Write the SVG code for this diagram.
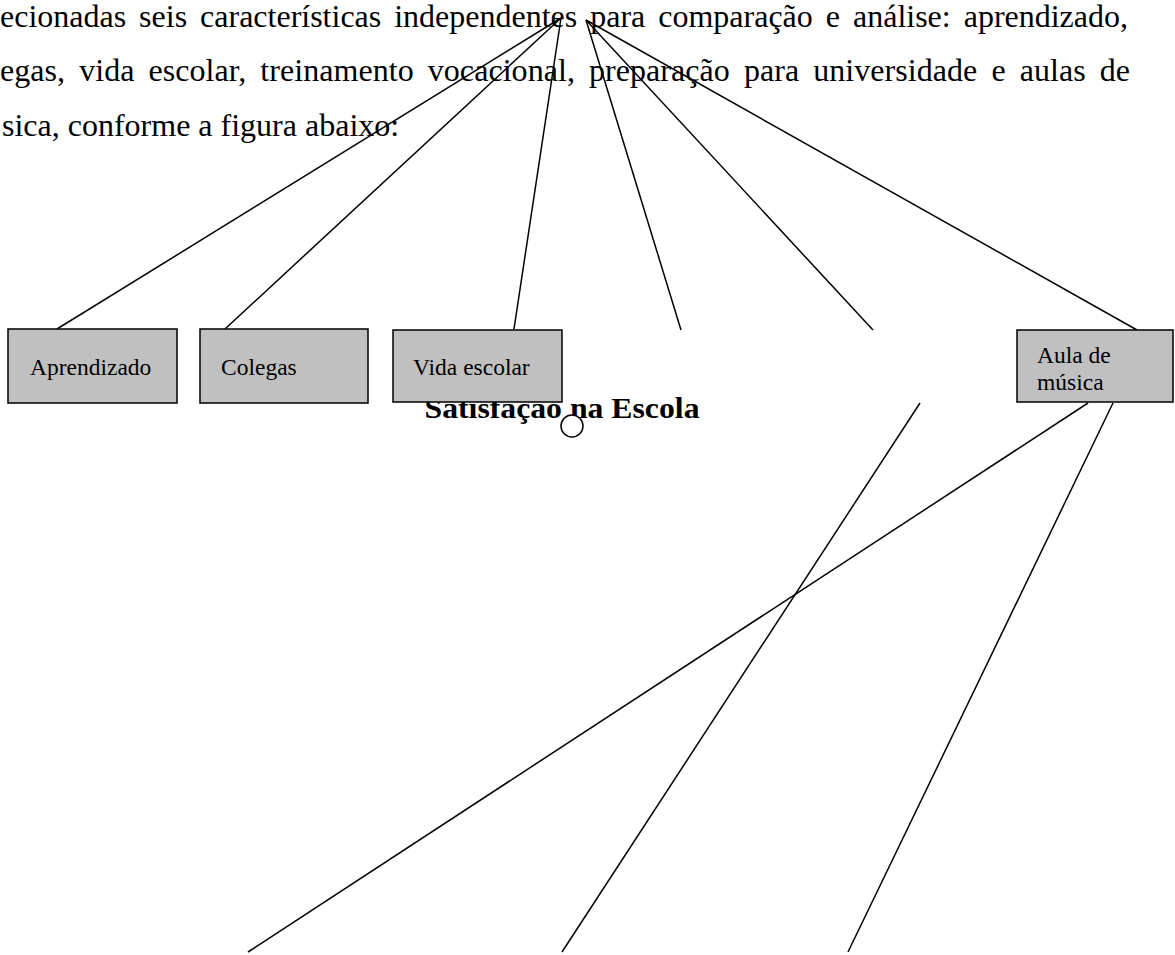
<svg xmlns="http://www.w3.org/2000/svg" width="1175" height="955" viewBox="0 0 1175 955">
<style>
.p{font-family:"Liberation Serif","Times New Roman",serif;font-size:32px;fill:#000}
.lbl{font-family:"Liberation Serif","Times New Roman",serif;font-size:23.5px;fill:#000}
.ttl{font-family:"Liberation Serif","Times New Roman",serif;font-size:30px;font-weight:bold;fill:#000}
.box{fill:#c0c0c0;stroke:#000;stroke-width:1.5}
.ln{stroke:#000;stroke-width:1.5;fill:none}
</style>
<rect width="1175" height="955" fill="#fff"/>
<g id="paragraph">
<text class="p" x="0" y="27" textLength="1128" lengthAdjust="spacing" word-spacing="5">ecionadas seis características independentes para comparação e análise: aprendizado,</text>
<text class="p" x="0" y="81" textLength="1130" lengthAdjust="spacing" word-spacing="6">egas, vida escolar, treinamento vocacional, preparação para universidade e aulas de</text>
<text class="p" x="2" y="136">sica, conforme a figura abaixo:</text>
</g>
<g id="title">
<text class="ttl" x="562" y="418" text-anchor="middle" textLength="275" lengthAdjust="spacingAndGlyphs">Satisfação na Escola</text>
</g>
<g id="connectors">
<line class="ln" x1="561" y1="18" x2="57" y2="329"/>
<line class="ln" x1="561" y1="18" x2="225" y2="329"/>
<line class="ln" x1="561" y1="18" x2="514" y2="329"/>
<line class="ln" x1="586" y1="20" x2="681" y2="330"/>
<line class="ln" x1="586" y1="20" x2="873" y2="330"/>
<line class="ln" x1="586" y1="20" x2="1137" y2="330"/>
<line class="ln" x1="1088" y1="403" x2="248" y2="952"/>
<line class="ln" x1="920" y1="403" x2="562" y2="952"/>
<line class="ln" x1="1113" y1="403" x2="848" y2="952"/>
</g>
<g id="node-aprendizado">
<rect class="box" x="8" y="329" width="169" height="74"/>
<text class="lbl" x="30" y="375">Aprendizado</text>
</g>
<g id="node-colegas">
<rect class="box" x="200" y="329" width="168" height="74"/>
<text class="lbl" x="221" y="375">Colegas</text>
</g>
<g id="node-vida-escolar">
<rect class="box" x="393" y="330" width="169" height="72"/>
<text class="lbl" x="413" y="375">Vida escolar</text>
</g>
<g id="node-aula-musica">
<rect class="box" x="1017" y="330" width="156" height="72"/>
<text class="lbl" x="1037" y="363">Aula de</text>
<text class="lbl" x="1037" y="390">música</text>
</g>
<g id="node-circle">
<circle cx="572" cy="426" r="11" fill="#fff" stroke="#000" stroke-width="1.5"/>
</g>
</svg>
